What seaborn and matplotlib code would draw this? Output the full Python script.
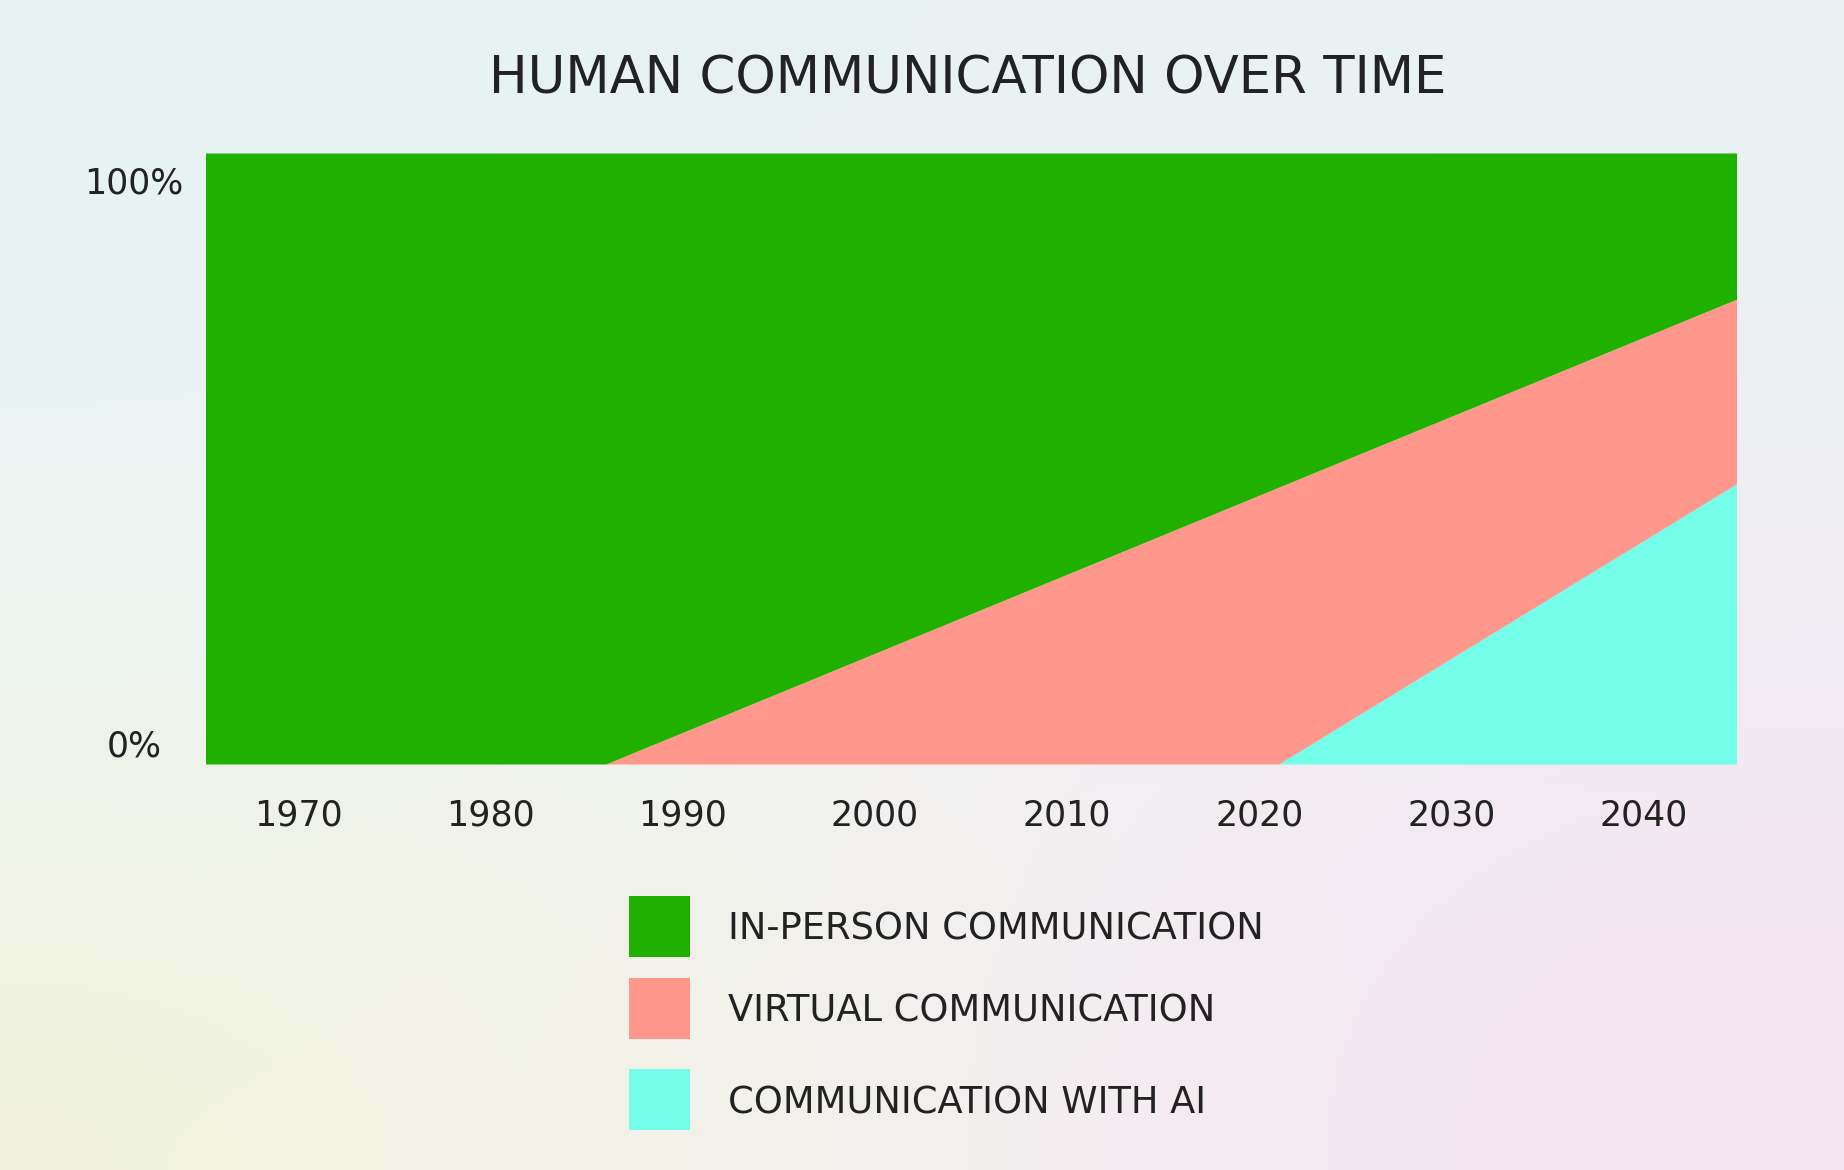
import numpy as np
import pandas as pd
import matplotlib
matplotlib.use("Agg")
import matplotlib.pyplot as plt
import matplotlib.transforms as mtransforms
from matplotlib.patches import Rectangle
import seaborn as sns

# values (percent of all communication)
years = [1965, 1986, 2021, 2045]
in_person = [100, 100, 54.7, 23.7]
virtual = [0, 0, 45.3, 30.1]
with_ai = [0, 0, 0, 46.2]

series_names = ["IN-PERSON COMMUNICATION", "VIRTUAL COMMUNICATION", "COMMUNICATION WITH AI"]
series_colors = ["#20b000", "#ff978c", "#74fde8"]
xtick_years = [1970, 1980, 1990, 2000, 2010, 2020, 2030, 2040]
ytick_vals = [0, 100]
ytick_labels = ["0%", "100%"]
title = "HUMAN COMMUNICATION OVER TIME"

df = pd.DataFrame({"year": years, "in_person": in_person,
                   "virtual": virtual, "ai": with_ai})

sns.set_theme(style="white")
plt.rcParams["font.family"] = ["DejaVu Sans"]
text_color = "#222222"

W, H = 1844, 1170
fig = plt.figure(figsize=(W / 100, H / 100), dpi=100)

# soft gradient background
bg = fig.add_axes([0, 0, 1, 1], zorder=-10)
grid = np.array([
    [[0xe6, 0xf2, 0xf2], [0xe9, 0xf2, 0xf2], [0xea, 0xf1, 0xf2]],
    [[0xed, 0xf4, 0xf4], [0xf2, 0xf2, 0xf2], [0xf0, 0xee, 0xf3]],
    [[0xf1, 0xf2, 0xde], [0xf3, 0xf2, 0xf0], [0xf4, 0xe3, 0xf3]],
]) / 255.0
bg.imshow(grid, interpolation="bicubic", aspect="auto", extent=[0, 1, 0, 1])
bg.set_axis_off()

ax = fig.add_axes([206 / W, 1 - 764 / H, 1530 / W, 611 / H])
ax.stackplot(df["year"], df["ai"], df["virtual"], df["in_person"],
             colors=series_colors[::-1], linewidth=0)
ax.set_xlim(1965.2, 2044.8)
ax.set_ylim(0, 100)
ax.patch.set_alpha(0)
sns.despine(ax=ax, left=True, bottom=True)

ax.set_xticks(xtick_years)
ax.set_xticklabels([str(y) for y in xtick_years])
ax.set_yticks(ytick_vals)
ax.set_yticklabels(ytick_labels)
ax.tick_params(axis="x", length=0, pad=25, labelsize=25, labelcolor=text_color)
ax.tick_params(axis="y", length=0, pad=52, labelsize=25, labelcolor=text_color)
for lab in ax.get_yticklabels():
    lab.set_horizontalalignment("center")
ylabs = ax.get_yticklabels()
ylabs[0].set_transform(ylabs[0].get_transform() +
                       mtransforms.ScaledTranslation(0, 0.21, fig.dpi_scale_trans))
ylabs[1].set_transform(ylabs[1].get_transform() +
                       mtransforms.ScaledTranslation(0, -0.27, fig.dpi_scale_trans))

fig.text(968 / W, 1 - 80 / H, title, ha="center", va="center",
         fontsize=37, color=text_color)

# legend: square keys with labels beside them
key_tops = [896, 978, 1069]
key_size = 61
for name, color, top in zip(series_names, series_colors, key_tops):
    fig.add_artist(Rectangle((629 / W, 1 - (top + key_size) / H), key_size / W,
                             key_size / H, transform=fig.transFigure,
                             facecolor=color, edgecolor="none"))
    fig.text(728 / W, 1 - (top + key_size / 2 + 13.5) / H, name, ha="left",
             va="baseline", fontsize=26.5, color=text_color)

fig.savefig("out.png", dpi=100)
